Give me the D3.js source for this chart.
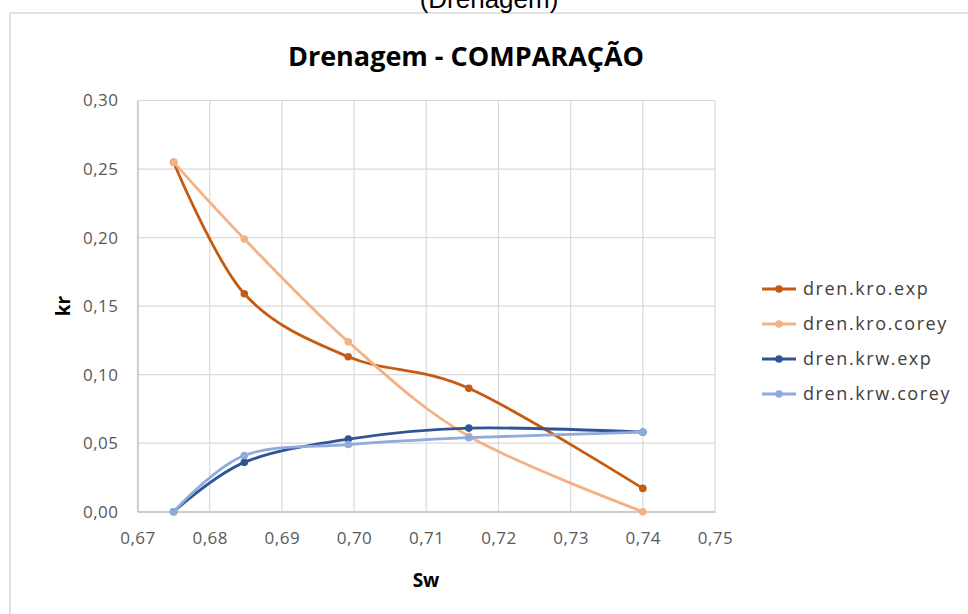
<!DOCTYPE html>
<html>
<head>
<meta charset="utf-8">
<script src="https://cdn.jsdelivr.net/npm/d3@7"></script>
<style>
  html, body { margin: 0; padding: 0; background: #fff; }
  svg { display: block; }
</style>
</head>
<body>
<svg id="chart" width="968" height="614"></svg>
<script>
// Water saturation (Sw) at each measured point
const sw = [0.675, 0.6848, 0.6992, 0.7159, 0.740];

// Relative permeabilities, drainage
const kroExp   = [0.255, 0.159, 0.113, 0.090, 0.017];
const kroCorey = [0.255, 0.199, 0.124, 0.055, 0.000];
const krwExp   = [0.000, 0.036, 0.053, 0.061, 0.058];
const krwCorey = [0.000, 0.041, 0.049, 0.054, 0.058];

const seriesNames  = ["dren.kro.exp", "dren.kro.corey", "dren.krw.exp", "dren.krw.corey"];
const seriesColors = ["#C55A11", "#F4B183", "#2F5597", "#8FAADC"];
const seriesValues = [kroExp, kroCorey, krwExp, krwCorey];

const xTicks = [0.67, 0.68, 0.69, 0.70, 0.71, 0.72, 0.73, 0.74, 0.75];
const yTicks = [0.00, 0.05, 0.10, 0.15, 0.20, 0.25, 0.30];

const svg = d3.select("#chart");
const font = "'Open Sans', Lato, sans-serif";

// outer chart frame
svg.append("rect")
  .attr("x", 10).attr("y", 13)
  .attr("width", 1000).attr("height", 700)
  .attr("fill", "#fff")
  .attr("stroke", "#d9d9d9").attr("stroke-width", 1.5);

// caption above the frame
svg.append("text")
  .attr("x", 489).attr("y", 8)
  .attr("text-anchor", "middle")
  .attr("font-family", "Arial, 'Liberation Sans', sans-serif")
  .attr("font-size", 26)
  .attr("fill", "#000")
  .text("(Drenagem)");

const plot = { left: 137.5, right: 715, top: 100.5, bottom: 511.7 };

const x = d3.scaleLinear().domain([0.67, 0.75]).range([plot.left, plot.right]);
const y = d3.scaleLinear().domain([0, 0.30]).range([plot.bottom, plot.top]);

const fmt = v => d3.format(".2f")(v).replace(".", ",");

// gridlines
const grid = svg.append("g").attr("stroke", "#d9d9d9").attr("stroke-width", 1.2);
grid.selectAll("line.h").data(yTicks).join("line")
  .attr("x1", plot.left).attr("x2", plot.right)
  .attr("y1", d => y(d)).attr("y2", d => y(d));
grid.selectAll("line.v").data(xTicks).join("line")
  .attr("y1", plot.top).attr("y2", plot.bottom)
  .attr("x1", d => x(d)).attr("x2", d => x(d));

// axes (labels only; lines drawn as gridlines)
const xAxis = svg.append("g")
  .attr("transform", `translate(0,${plot.bottom})`)
  .call(d3.axisBottom(x).tickValues(xTicks).tickFormat(fmt).tickSize(0).tickPadding(20));
const yAxis = svg.append("g")
  .attr("transform", `translate(${plot.left},0)`)
  .call(d3.axisLeft(y).tickValues(yTicks).tickFormat(fmt).tickSize(0).tickPadding(19));
[xAxis, yAxis].forEach(a => {
  a.select(".domain").attr("stroke", "#bfbfbf").attr("stroke-width", 1.2);
  a.selectAll("text")
    .attr("font-family", font)
    .attr("font-size", 17)
    .attr("letter-spacing", 0.5)
    .attr("fill", "#595959");
});

// axis titles
svg.append("text")
  .attr("x", 426).attr("y", 587)
  .attr("text-anchor", "middle")
  .attr("font-family", font).attr("font-weight", "bold")
  .attr("font-size", 19).attr("fill", "#000")
  .text("Sw");
svg.append("text")
  .attr("transform", "translate(70,306) rotate(-90)")
  .attr("text-anchor", "middle")
  .attr("font-family", font).attr("font-weight", "bold")
  .attr("font-size", 19).attr("fill", "#000")
  .text("kr");

// chart title
svg.append("text")
  .attr("x", 466).attr("y", 66)
  .attr("text-anchor", "middle")
  .attr("font-family", font).attr("font-weight", "bold")
  .attr("font-size", 27).attr("fill", "#000")
  .text("Drenagem - COMPARAÇÃO");

// smoothed series lines with markers
const line = d3.line()
  .x(d => x(d[0])).y(d => y(d[1]))
  .curve(d3.curveCardinal.tension(0));

seriesValues.forEach((vals, i) => {
  const pts = sw.map((s, j) => [s, vals[j]]);
  const g = svg.append("g");
  g.append("path")
    .attr("d", line(pts))
    .attr("fill", "none")
    .attr("stroke", seriesColors[i])
    .attr("stroke-width", 2.8)
    .attr("stroke-linejoin", "round");
  g.selectAll("circle").data(pts).join("circle")
    .attr("cx", d => x(d[0])).attr("cy", d => y(d[1]))
    .attr("r", 3.8)
    .attr("fill", seriesColors[i]);
});

// legend
const legend = svg.append("g");
seriesNames.forEach((name, i) => {
  const ly = 289 + i * 35;
  legend.append("line")
    .attr("x1", 762).attr("x2", 796)
    .attr("y1", ly).attr("y2", ly)
    .attr("stroke", seriesColors[i]).attr("stroke-width", 2.8);
  legend.append("circle")
    .attr("cx", 779).attr("cy", ly).attr("r", 3.8)
    .attr("fill", seriesColors[i]);
  legend.append("text")
    .attr("x", 803).attr("y", ly + 6)
    .attr("font-family", font).attr("font-size", 18)
    .attr("letter-spacing", 1.6)
    .attr("fill", "#404040")
    .text(name);
});
</script>
</body>
</html>
